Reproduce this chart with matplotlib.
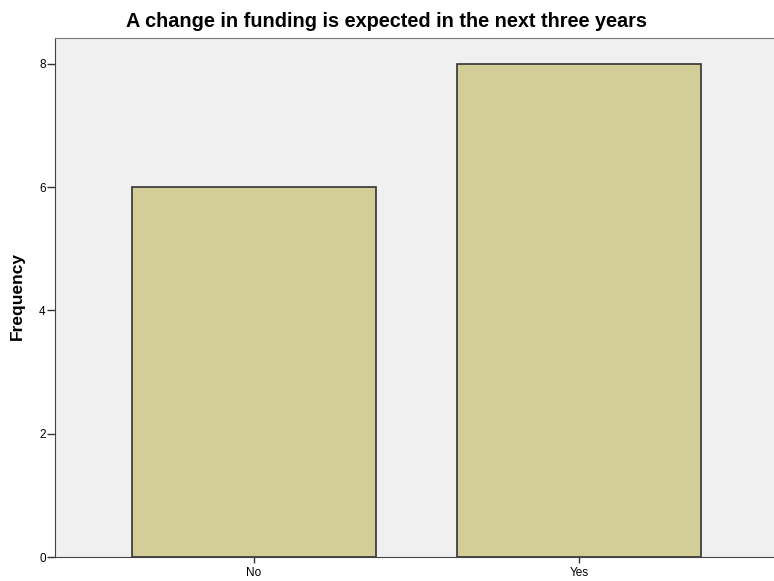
import matplotlib
matplotlib.use("Agg")
import matplotlib.pyplot as plt

# 数据
categories = ["No", "Yes"]
frequency = [6, 8]
yticks = [0, 2, 4, 6, 8]

plt.rcParams["font.family"] = ["Liberation Sans", "DejaVu Sans"]

fig = plt.figure(figsize=(7.74, 5.81), dpi=100)
ax = fig.add_axes([0.0717, 0.0413, 0.9283, 0.8933])
ax.set_facecolor("#F0F0F0")

x = list(range(len(categories)))
ax.bar(x, frequency, width=0.75, color="#D3CE97", edgecolor="#333333", linewidth=1.2, zorder=2)

ax.set_xlim(-0.61, 1.598)
ax.set_ylim(0, 8.42)
ax.set_xticks(x)
ax.set_xticklabels(categories, fontsize=8.5)
ax.set_yticks(yticks)
ax.set_yticklabels([str(v) for v in yticks], fontsize=8.5)
ax.tick_params(axis="y", length=6, width=1, color="#333333", pad=1)
ax.tick_params(axis="x", length=4, width=1, color="#333333", pad=3)

ax.spines["right"].set_visible(False)
ax.spines["top"].set_color("#777777")
ax.spines["left"].set_color("#444444")
ax.spines["bottom"].set_color("#444444")

# 纵轴标题与图标题
fig.text(17 / 774, 0.4897, "Frequency", rotation=90, ha="center", va="center",
         fontsize=12.5, fontweight="bold")
fig.text(0.5, 1 - 27 / 581, "A change in funding is expected in the next three years",
         ha="center", va="baseline", fontsize=14.3, fontweight="bold")

fig.savefig("out.png", dpi=100)
